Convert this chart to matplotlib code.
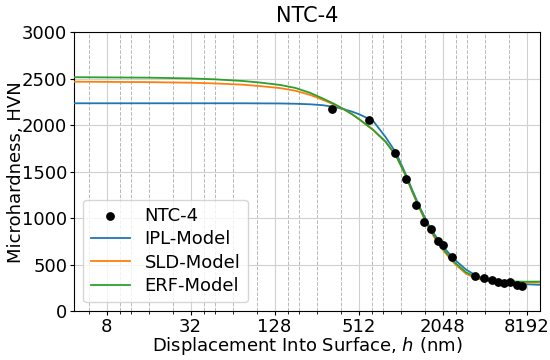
import matplotlib
matplotlib.use('Agg')
import matplotlib.pyplot as plt
import matplotlib.ticker as mticker
import numpy as np

plt.rcParams.update({
    'font.family': ['DejaVu Sans'],
    'font.size': 13,
    'xtick.major.size': 3,
    'ytick.major.size': 3,
    'xtick.minor.size': 2,
    'xtick.major.pad': 2,
    'ytick.major.pad': 2,
})

# -- Data --
# measured points
h_meas = [329, 611, 932, 1112, 1311, 1511, 1678, 1902, 2065, 2371,
          3480, 4056, 4583, 5107, 5610, 6192, 6912, 7507]
hv_meas = [2173, 2055, 1704, 1425, 1140, 957, 888, 760, 714, 588,
           384, 357, 338, 320, 309, 320, 281, 277]

# model curves, sampled along h
h_fit = [4.7, 16, 32, 48, 75, 100, 140, 180, 230, 280, 340, 400, 460, 520,
         650, 800, 950, 1100, 1250, 1400, 1600, 1800, 2100, 2500, 3000,
         3600, 4500, 6000, 8000, 10200]
hv_ipl = [2235, 2235, 2235, 2235, 2235, 2234, 2233, 2230, 2224, 2215, 2197,
          2172, 2145, 2115, 2045, 1870, 1700, 1490, 1290, 1120, 945, 820,
          680, 555, 450, 380, 335, 305, 292, 285]
hv_sld = [2467, 2462, 2456, 2448, 2435, 2420, 2398, 2370, 2325, 2275, 2222,
          2172, 2118, 2060, 1948, 1820, 1668, 1475, 1270, 1100, 915, 785,
          640, 510, 405, 352, 325, 313, 310, 310]
hv_erf = [2515, 2510, 2502, 2492, 2475, 2458, 2432, 2400, 2347, 2290, 2230,
          2172, 2116, 2060, 1950, 1820, 1670, 1475, 1275, 1110, 930, 800,
          655, 525, 420, 365, 335, 322, 319, 320]

x_major = [8, 32, 128, 512, 2048, 8192]

fig = plt.figure(figsize=(5.5, 3.6), dpi=100)
ax = fig.add_axes([0.135, 0.135, 0.847, 0.776])

ax.scatter(h_meas, hv_meas, s=28, color='black', zorder=5, label='NTC-4')
ax.plot(h_fit, hv_ipl, color='#1f77b4', lw=1.3, label='IPL-Model', zorder=3)
ax.plot(h_fit, hv_sld, color='#ff7f0e', lw=1.3, label='SLD-Model', zorder=3)
ax.plot(h_fit, hv_erf, color='#2ca02c', lw=1.3, label='ERF-Model', zorder=4)

ax.set_xscale('log', base=2)
ax.set_xlim(4.7, 10200)
ax.set_ylim(0, 3000)
ax.set_yticks(np.arange(0, 3001, 500))

# minor grid at 4^n * (1, 1.5, 2.5, 3)
x_minor = [4 ** n * s for n in range(1, 7) for s in (1, 1.5, 2.5, 3)]
ax.xaxis.set_major_locator(mticker.FixedLocator(x_major))
ax.xaxis.set_major_formatter(mticker.FuncFormatter(lambda v, p: '%g' % v))
ax.xaxis.set_minor_locator(mticker.FixedLocator(x_minor))
ax.xaxis.set_minor_formatter(mticker.NullFormatter())

ax.grid(which='major', color='#d0d0d0', lw=0.8, ls='-', zorder=0)
ax.grid(which='minor', axis='x', color='#b8b8b8', lw=0.7, ls='--', zorder=0)
ax.set_axisbelow(True)

ax.set_title('NTC-4', fontsize=15, pad=7)
ax.set_xlabel('Displacement Into Surface, $h$ (nm)', fontsize=13, labelpad=-1)
ax.set_ylabel('Microhardness, HVN', fontsize=13, labelpad=-2)
ax.legend(loc='lower left', fontsize=13, handlelength=2.2,
          borderpad=0.4, labelspacing=0.3)

fig.savefig('out.png', dpi=100)
